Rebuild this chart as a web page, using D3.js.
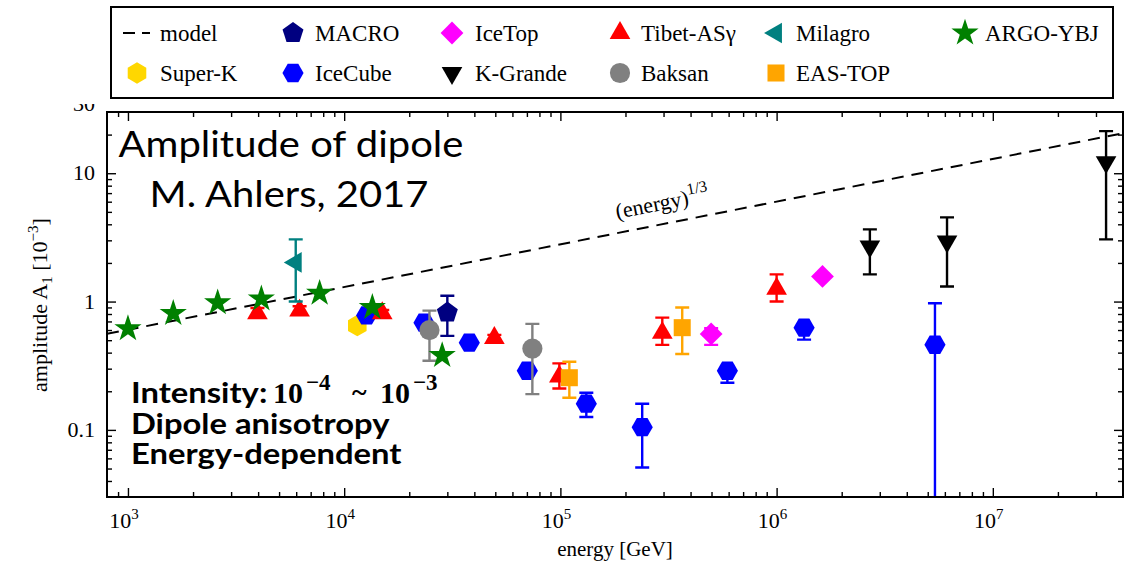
<!DOCTYPE html>
<html>
<head>
<meta charset="utf-8">
<script src="https://cdn.jsdelivr.net/npm/d3@7"></script>
<style>
  body { margin: 0; background: #fff; }
  svg { display: block; }
  .serif { font-family: "Liberation Serif", "Times New Roman", serif; }
</style>
</head>
<body>
<svg id="chart" width="1135" height="567"></svg>
<script>
// --- data (energy in GeV, amplitude in 10^-3) ---
const modelE = [800, 4e7];
const modelA = [0.56, 20.5];

const superkE = [11500];
const superkA = [0.65];

const icecubeE = [12700, 23400, 37900, 70300, 131800, 239000, 592000, 1.34e6, 5.4e6];
const icecubeA = [0.78, 0.685, 0.478, 0.289, 0.16, 0.105, 0.289, 0.626, 0.461];
const icecubeLo = [0.74, 0.65, 0.46, 0.27, 0.126, 0.051, 0.233, 0.505, 0.01];
const icecubeHi = [0.82, 0.72, 0.50, 0.31, 0.195, 0.16, 0.31, 0.66, 0.97];

const baksanE = [24800, 74200];
const baksanA = [0.60, 0.43];
const baksanLo = [0.346, 0.19];
const baksanHi = [0.85, 0.67];

const macroE = [30000];
const macroA = [0.82];
const macroLo = [0.54];
const macroHi = [1.11];

const tibetE = [3970, 6220, 15000, 49500, 98900, 296000, 1.0e6];
const tibetA = [0.81, 0.85, 0.81, 0.52, 0.26, 0.57, 1.26];
const tibetLo = [0.75, 0.79, 0.76, 0.50, 0.21, 0.46, 1.0];
const tibetHi = [0.89, 0.92, 0.86, 0.55, 0.33, 0.75, 1.63];

const eastopE = [110000, 366000];
const eastopA = [0.255, 0.626];
const eastopLo = [0.178, 0.39];
const eastopHi = [0.34, 0.9];

const icetopE = [498000, 1.63e6];
const icetopA = [0.56, 1.57];
const icetopLo = [0.46, 1.5];
const icetopHi = [0.62, 1.65];

const kgrandeE = [2.7e6, 6.14e6, 3.34e7];
const kgrandeA = [2.69, 2.94, 12.2];
const kgrandeLo = [1.63, 1.31, 3.05];
const kgrandeHi = [3.65, 4.53, 21.3];

const milagroE = [5970];
const milagroA = [2.02];
const milagroLo = [1.0];
const milagroHi = [3.05];

const argoE = [1000, 1620, 2600, 4140, 7700, 13500, 28400];
const argoA = [0.615, 0.81, 0.98, 1.05, 1.16, 0.90, 0.38];

const xMajor = [1e3, 1e4, 1e5, 1e6, 1e7];
const yMajor = [0.1, 1, 10];
const yMajorLabels = ["0.1", "1", "10"];

// legend rows
const legendRow1 = ["model", "MACRO", "IceTop", "Tibet-ASγ", "Milagro", "ARGO-YBJ"];
const legendRow2 = ["Super-K", "IceCube", "K-Grande", "Baksan", "EAS-TOP"];

// --- layout ---
const svg = d3.select("#chart");
const W = 1135, H = 567;
const plot = {left: 107, right: 1123, top: 112, bottom: 497};

const x = d3.scaleLog().domain([800, 4e7]).range([plot.left, plot.right]);
const y = d3.scaleLog().domain([0.03, 30]).range([plot.bottom, plot.top]);

svg.append("rect").attr("width", W).attr("height", H).attr("fill", "#fff");

// custom polygon symbols (size = radius^2)
function polygon(n, rot) {
  return {
    draw(ctx, size) {
      const r = Math.sqrt(size);
      for (let i = 0; i < n; i++) {
        const a = rot + i * 2 * Math.PI / n;
        const px = r * Math.sin(a), py = -r * Math.cos(a);
        if (i === 0) ctx.moveTo(px, py); else ctx.lineTo(px, py);
      }
      ctx.closePath();
    }
  };
}
const hexUp = polygon(6, 0);              // point on top
const hexFlat = polygon(6, Math.PI / 6);  // points left/right
const pentagon = polygon(5, 0);

// marker styles per experiment
const styles = {
  superk:  {color: "#ffd700", type: hexUp, size: 115, rot: 0},
  icecube: {color: "#0000ff", type: hexFlat, size: 112, rot: 0},
  baksan:  {color: "#808080", type: d3.symbolCircle, size: 320, rot: 0},
  macro:   {color: "#000080", type: pentagon, size: 121, rot: 0},
  tibet:   {color: "#ff0000", type: d3.symbolTriangle, size: 185, rot: 0},
  eastop:  {color: "#ffa500", type: d3.symbolSquare, size: 290, rot: 0},
  icetop:  {color: "#ff00ff", type: d3.symbolSquare, size: 260, rot: 45},
  kgrande: {color: "#000000", type: d3.symbolTriangle, size: 185, rot: 180},
  milagro: {color: "#008080", type: d3.symbolTriangle, size: 185, rot: -90},
  argo:    {color: "#008000", type: d3.symbolStar, size: 230, rot: 0}
};

function rows(E, A, lo, hi) {
  return E.map((e, i) => ({e: e, a: A[i], lo: lo ? lo[i] : null, hi: hi ? hi[i] : null}));
}

// clip for data
svg.append("clipPath").attr("id", "plotclip")
  .append("rect")
  .attr("x", plot.left).attr("y", plot.top)
  .attr("width", plot.right - plot.left).attr("height", plot.bottom - plot.top);

const g = svg.append("g").attr("clip-path", "url(#plotclip)");

// model line
const modelData = modelE.map((e, i) => [e, modelA[i]]);
g.append("path")
  .datum(modelData)
  .attr("d", d3.line().x(d => x(d[0])).y(d => y(d[1])))
  .attr("fill", "none")
  .attr("stroke", "#000")
  .attr("stroke-width", 2)
  .attr("stroke-dasharray", "12,8");

function drawSeries(data, st) {
  const s = g.append("g");
  const withErr = data.filter(d => d.lo != null);
  s.selectAll("path.err").data(withErr).enter().append("path")
    .attr("d", d => {
      const cx = x(d.e), y1 = y(d.hi), y0 = y(d.lo);
      return `M${cx},${y0}V${y1}M${cx - 7},${y1}H${cx + 7}M${cx - 7},${y0}H${cx + 7}`;
    })
    .attr("stroke", st.color)
    .attr("stroke-width", 2.4)
    .attr("fill", "none");
  s.selectAll("path.mk").data(data).enter().append("path")
    .attr("d", d3.symbol().type(st.type).size(st.size))
    .attr("transform", d => `translate(${x(d.e)},${y(d.a)}) rotate(${st.rot})`)
    .attr("fill", st.color);
}

drawSeries(rows(superkE, superkA), styles.superk);
drawSeries(rows(icecubeE, icecubeA, icecubeLo, icecubeHi), styles.icecube);
drawSeries(rows(baksanE, baksanA, baksanLo, baksanHi), styles.baksan);
drawSeries(rows(macroE, macroA, macroLo, macroHi), styles.macro);
drawSeries(rows(tibetE, tibetA, tibetLo, tibetHi), styles.tibet);
drawSeries(rows(eastopE, eastopA, eastopLo, eastopHi), styles.eastop);
drawSeries(rows(icetopE, icetopA, icetopLo, icetopHi), styles.icetop);
drawSeries(rows(kgrandeE, kgrandeA, kgrandeLo, kgrandeHi), styles.kgrande);
drawSeries(rows(milagroE, milagroA, milagroLo, milagroHi), styles.milagro);
drawSeries(rows(argoE, argoA), styles.argo);

// --- axes (ticks pointing inward on all four sides) ---
function minorTicks(domain) {
  const out = [];
  for (let k = -3; k <= 8; k++) {
    for (let m = 2; m <= 9; m++) {
      const v = m * Math.pow(10, k);
      if (v > domain[0] * 1.0001 && v < domain[1] * 0.9999) out.push(v);
    }
  }
  return out;
}
const xMinor = minorTicks(x.domain());
const yMinor = minorTicks(y.domain());

function tickAxis(axisFn, scale, vals, len, tr) {
  const a = svg.append("g").attr("transform", tr)
    .call(axisFn(scale).tickValues(vals).tickSize(len).tickFormat(""));
  a.select(".domain").remove();
  a.selectAll(".tick line").attr("stroke", "#000").attr("stroke-width", 1.4);
  return a;
}
tickAxis(d3.axisBottom, x, xMajor, -9, `translate(0,${plot.bottom})`);
tickAxis(d3.axisBottom, x, xMinor, -5, `translate(0,${plot.bottom})`);
tickAxis(d3.axisTop, x, xMajor, -9, `translate(0,${plot.top})`);
tickAxis(d3.axisTop, x, xMinor, -5, `translate(0,${plot.top})`);
tickAxis(d3.axisLeft, y, yMajor, -9, `translate(${plot.left},0)`);
tickAxis(d3.axisLeft, y, yMinor, -5, `translate(${plot.left},0)`);
tickAxis(d3.axisRight, y, yMajor, -9, `translate(${plot.right},0)`);
tickAxis(d3.axisRight, y, yMinor, -5, `translate(${plot.right},0)`);

// frame
svg.append("rect")
  .attr("x", plot.left).attr("y", plot.top)
  .attr("width", plot.right - plot.left).attr("height", plot.bottom - plot.top)
  .attr("fill", "none").attr("stroke", "#000").attr("stroke-width", 2);

// x tick labels: 10^n
const xl = svg.append("g").attr("class", "serif").attr("font-size", 22);
xMajor.forEach(v => {
  const t = xl.append("text")
    .attr("x", x(v) - 4).attr("y", plot.bottom + 31)
    .attr("text-anchor", "middle");
  t.append("tspan").text("10");
  t.append("tspan").attr("dy", -9).attr("font-size", 15).text(Math.round(Math.log10(v)));
});

// y tick labels
const yl = svg.append("g").attr("class", "serif").attr("font-size", 22);
yMajor.forEach((v, i) => {
  yl.append("text")
    .attr("x", plot.left - 12).attr("y", y(v) + 7)
    .attr("text-anchor", "end")
    .text(yMajorLabels[i]);
});
// top label partly hidden in the picture
svg.append("clipPath").attr("id", "topclip")
  .append("rect").attr("x", 60).attr("y", 104).attr("width", 45).attr("height", 20);
yl.append("text")
  .attr("x", plot.left - 12).attr("y", 111)
  .attr("text-anchor", "end")
  .attr("clip-path", "url(#topclip)")
  .text("30");

// axis titles
svg.append("text").attr("class", "serif")
  .attr("x", 615).attr("y", 556)
  .attr("text-anchor", "middle").attr("font-size", 21)
  .text("energy [GeV]");

const yt = svg.append("text").attr("class", "serif")
  .attr("transform", "translate(47,305) rotate(-90)")
  .attr("text-anchor", "middle").attr("font-size", 22);
yt.append("tspan").text("amplitude A");
yt.append("tspan").attr("dy", 5).attr("font-size", 15).text("1");
yt.append("tspan").attr("dy", -5).text(" [10");
yt.append("tspan").attr("dy", -9).attr("font-size", 15).text("−3");
yt.append("tspan").attr("dy", 9).text("]");

// model label
const ang = -Math.atan2(
  (y(modelA[0]) - y(modelA[1])) / (x(modelE[1]) - x(modelE[0])), 1) * 180 / Math.PI;
const ml = svg.append("text").attr("class", "serif")
  .attr("transform", `translate(617,${219}) rotate(${ang})`)
  .attr("font-size", 22);
ml.append("tspan").text("(energy)");
ml.append("tspan").attr("dy", -10).attr("font-size", 16).text("1/3");

// annotations (Lato stretched a little to get Calibri-like proportions)
const sans = "Lato, 'Open Sans', sans-serif";
svg.append("g")
  .attr("transform", "translate(291,0) scale(1.08,1) translate(-291,0)")
  .append("text")
  .attr("x", 291).attr("y", 157)
  .attr("text-anchor", "middle")
  .attr("font-family", sans)
  .attr("font-size", 37)
  .text("Amplitude of dipole");
svg.append("g")
  .attr("transform", "translate(289,0) scale(1.08,1) translate(-289,0)")
  .append("text")
  .attr("x", 289).attr("y", 207)
  .attr("text-anchor", "middle")
  .attr("font-family", sans)
  .attr("font-size", 37)
  .text("M. Ahlers, 2017");

const ann = svg.append("g")
  .attr("transform", "translate(131,0) scale(1.17,1) translate(-131,0)")
  .attr("font-family", sans)
  .attr("font-weight", "bold")
  .attr("font-size", 28);
ann.append("text").attr("x", 131).attr("y", 403).text("Intensity:");
ann.append("text").attr("x", 131).attr("y", 434).text("Dipole anisotropy");
ann.append("text").attr("x", 131).attr("y", 464).text("Energy-dependent");

// math part: 10^-4 ~ 10^-3
const mth = svg.append("g")
  .attr("font-family", "'Liberation Serif', serif")
  .attr("font-weight", "bold");
mth.append("text").attr("x", 273).attr("y", 403).attr("font-size", 30).text("10");
mth.append("text").attr("x", 306).attr("y", 390).attr("font-size", 23).text("−4");
mth.append("text").attr("x", 352).attr("y", 401).attr("font-size", 28).text("~");
mth.append("text").attr("x", 380).attr("y", 403).attr("font-size", 30).text("10");
mth.append("text").attr("x", 413).attr("y", 390).attr("font-size", 23).text("−3");

// --- legend ---
const lg = svg.append("g").attr("class", "serif");
lg.append("rect")
  .attr("x", 111).attr("y", 7).attr("width", 1002).attr("height", 91)
  .attr("fill", "#fff").attr("stroke", "#000").attr("stroke-width", 2);

const colMarker = [137, 293, 452, 620, 776, 965];
const colText = [160, 315, 475, 641, 796, 985];
const row1Keys = [null, "macro", "icetop", "tibet", "milagro", "argo"];
const row2Keys = ["superk", "icecube", "kgrande", "baksan", "eastop"];

function legendRow(names, keys, yy) {
  names.forEach((n, i) => {
    const k = keys[i];
    if (k == null) {
      lg.append("line")
        .attr("x1", 123).attr("x2", 150).attr("y1", yy).attr("y2", yy)
        .attr("stroke", "#000").attr("stroke-width", 2)
        .attr("stroke-dasharray", "12,7");
    } else {
      const st = styles[k];
      lg.append("path")
        .attr("d", d3.symbol().type(st.type).size(st.size)())
        .attr("transform", `translate(${colMarker[i]},${yy}) rotate(${st.rot})`)
        .attr("fill", st.color);
    }
    lg.append("text")
      .attr("x", colText[i]).attr("y", yy + 8)
      .attr("font-size", 23)
      .text(n);
  });
}
legendRow(legendRow1, row1Keys, 33);
legendRow(legendRow2, row2Keys, 73);
</script>
</body>
</html>
